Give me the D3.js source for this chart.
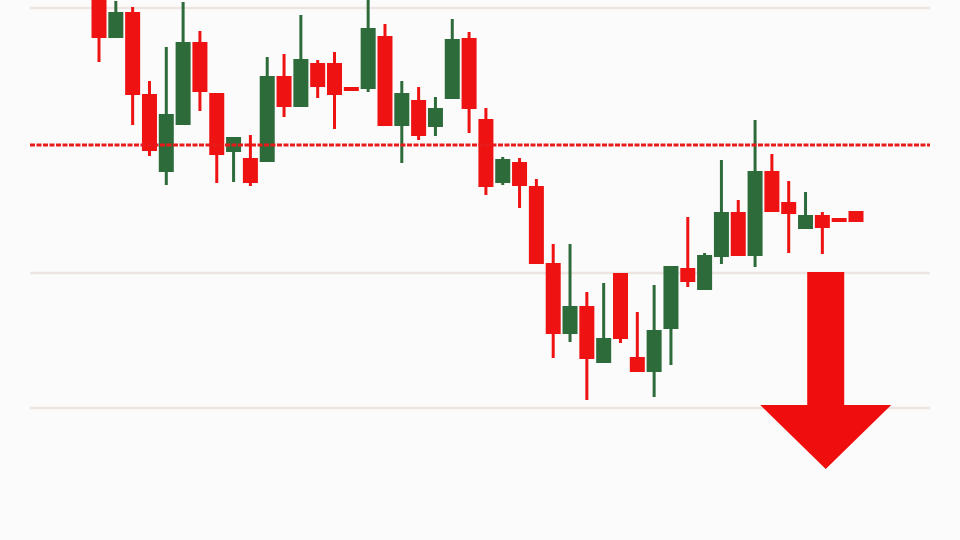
<!DOCTYPE html>
<html>
<head>
<meta charset="utf-8">
<script src="https://cdn.jsdelivr.net/npm/d3@7"></script>
<style>
  html, body { margin: 0; padding: 0; background: #fbfbfb; }
  svg { display: block; }
</style>
</head>
<body>
<svg id="chart" width="960" height="540"></svg>
<script>
// ---- data (price units) ----
const opens  = [545,502,528,446,368,415,498,447,388,382,378,464,433,477,477,453,451,504,414,440,413,441,502,421,357,378,354,277,206,234,177,267,183,168,211,272,250,283,328,284,369,338,311,325,322,329];
const highs  = [550,539,533,459,493,538,509,447,403,405,483,486,525,480,488,453,542,516,459,453,443,521,508,432,383,382,361,296,296,248,257,267,228,255,274,323,287,380,340,420,386,359,348,328,322,329];
const lows   = [478,502,415,384,355,415,429,357,358,354,378,423,433,442,411,449,448,414,377,400,404,441,407,345,355,332,276,182,198,140,177,197,168,143,175,253,250,276,284,273,328,287,311,286,318,318];
const closes = [502,528,445,389,426,498,448,385,403,357,464,433,481,453,445,449,512,414,447,404,432,501,431,353,381,354,276,206,234,181,202,201,168,210,274,258,285,328,284,369,328,326,325,312,318,318];
const gridLevels = [532, 267, 132];
const resistance = 395;
// down-arrow annotation: candle-index position and price levels
const arrowIndex = 43.2;
const arrowPrices = { top: 268, headBase: 135, tip: 71 };

const candles = opens.map((o, i) => ({ i, o, h: highs[i], l: lows[i], c: closes[i] }));

const svg = d3.select("#chart");
const W = 960, H = 540;
const plotLeft = 30, plotRight = 930;

const x = d3.scaleLinear().domain([0, candles.length - 1]).range([99, 856]);
const y = d3.scaleLinear().domain([0, 540]).range([540, 0]);

const RED = "#ee1212", GREEN = "#2d6b3b";
const bodyW = 15, wickW = 3;

// background
svg.append("rect").attr("width", W).attr("height", H).attr("fill", "#fbfbfb");

// grid lines
svg.append("g").selectAll("line").data(gridLevels).join("line")
  .attr("x1", plotLeft).attr("x2", plotRight)
  .attr("y1", d => y(d)).attr("y2", d => y(d))
  .attr("stroke", "#ede5e1").attr("stroke-width", 2.5);

// candles
const g = svg.append("g");
const col = d => d.c >= d.o ? GREEN : RED;
g.selectAll("line.wick").data(candles).join("line")
  .attr("class", "wick")
  .attr("x1", d => x(d.i)).attr("x2", d => x(d.i))
  .attr("y1", d => y(d.h)).attr("y2", d => y(d.l))
  .attr("stroke", col).attr("stroke-width", wickW);
g.selectAll("rect.body").data(candles).join("rect")
  .attr("class", "body")
  .attr("x", d => x(d.i) - bodyW / 2)
  .attr("width", bodyW)
  .attr("y", d => y(Math.max(d.o, d.c)))
  .attr("height", d => Math.max(3, Math.abs(y(d.o) - y(d.c))))
  .attr("fill", col);

// resistance dashed line
svg.append("line")
  .attr("x1", plotLeft).attr("x2", plotRight)
  .attr("y1", y(resistance)).attr("y2", y(resistance))
  .attr("stroke", "#e81a1a").attr("stroke-width", 3)
  .attr("stroke-dasharray", "5,1.5");

// down arrow
const ax = x(arrowIndex);
const shaftHalf = 18.5, headHalf = 65.5;
const pts = [
  [ax - shaftHalf, y(arrowPrices.top)],
  [ax + shaftHalf, y(arrowPrices.top)],
  [ax + shaftHalf, y(arrowPrices.headBase)],
  [ax + headHalf, y(arrowPrices.headBase)],
  [ax, y(arrowPrices.tip)],
  [ax - headHalf, y(arrowPrices.headBase)],
  [ax - shaftHalf, y(arrowPrices.headBase)]
];
svg.append("path")
  .attr("d", d3.line()(pts) + "Z")
  .attr("fill", "#f00d0d");
</script>
</body>
</html>
